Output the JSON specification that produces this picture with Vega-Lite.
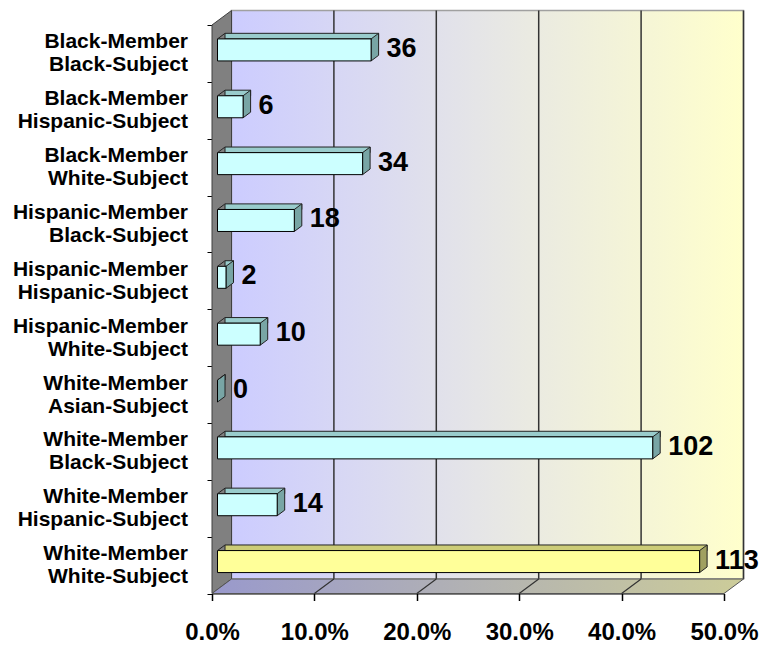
{
  "$schema": "https://vega.github.io/schema/vega-lite/v6.json",
  "width": 512,
  "height": 568.5,
  "autosize": {"type": "none"},
  "padding": {"left": 212, "top": 25, "right": 45, "bottom": 52.5},
  "background": "white",
  "config": {
    "view": {"stroke": null},
    "font": "Liberation Sans",
    "axisX": {"labelFont": "Liberation Sans", "labelFontWeight": "bold", "labelFontSize": 24, "labelColor": "#000000", "tickSize": 7, "tickWidth": 1.5, "tickColor": "#000000", "labelPadding": 20, "grid": false, "domainColor": "#000000", "domainWidth": 1, "zindex": 1, "labelFlush": false, "labelOverlap": false},
    "axisY": {"tickBand": "extent", "labelFont": "Liberation Sans", "labelFontWeight": "bold", "labelFontSize": 21, "labelLineHeight": 23, "labelColor": "#000000", "labelPadding": 19.5, "labelOffset": -11.5, "tickSize": 5, "tickColor": "#000000", "domainColor": "#000000", "labelAlign": "right", "labelBaseline": "middle", "labelLimit": 0, "zindex": 1, "grid": false}
  },
  "datasets": {
    "bars": [
      {"cat": "Black-Member|Black-Subject", "count": 36, "pct": 0.15},
      {"cat": "Black-Member|Hispanic-Subject", "count": 6, "pct": 0.025},
      {"cat": "Black-Member|White-Subject", "count": 34, "pct": 0.1417},
      {"cat": "Hispanic-Member|Black-Subject", "count": 18, "pct": 0.075},
      {"cat": "Hispanic-Member|Hispanic-Subject", "count": 2, "pct": 0.0083},
      {"cat": "Hispanic-Member|White-Subject", "count": 10, "pct": 0.0417},
      {"cat": "White-Member|Asian-Subject", "count": 0, "pct": 0},
      {"cat": "White-Member|Black-Subject", "count": 102, "pct": 0.425},
      {"cat": "White-Member|Hispanic-Subject", "count": 14, "pct": 0.0583},
      {"cat": "White-Member|White-Subject", "count": 113, "pct": 0.4708}
    ],
    "grid": [{"g": 0.1}, {"g": 0.2}, {"g": 0.3}, {"g": 0.4}]
  },
  "layer": [
    {
      "data": {"name": "bars"},
      "transform": [{"filter": "datum.cat === 'Black-Member|Black-Subject'"}],
      "mark": {"type": "point", "shape": "M19.5,-14.5L531.5,-14.5L531.5,554L19.5,554Z", "size": 4, "filled": true, "opacity": 1,
        "fill": {"gradient": "linear", "x1": 0, "y1": 0, "x2": 1, "y2": 0, "stops": [{"offset": 0, "color": "#ccccff"}, {"offset": 0.5, "color": "#e6e6e6"}, {"offset": 1, "color": "#ffffcc"}]},
        "stroke": "#a0a0a0", "strokeWidth": 1.5},
      "encoding": {
        "x": {"datum": 0, "type": "quantitative", "scale": {"domain": [0, 0.5], "nice": false}},
        "y": {"field": "cat", "type": "nominal", "bandPosition": 0, "sort": null, "scale": {"domain": ["Black-Member|Black-Subject", "Black-Member|Hispanic-Subject", "Black-Member|White-Subject", "Hispanic-Member|Black-Subject", "Hispanic-Member|Hispanic-Subject", "Hispanic-Member|White-Subject", "White-Member|Asian-Subject", "White-Member|Black-Subject", "White-Member|Hispanic-Subject", "White-Member|White-Subject"], "paddingInner": 0, "paddingOuter": 0}}
      }
    },
    {
      "data": {"name": "grid"},
      "mark": {"type": "rule", "xOffset": 19.5, "yOffset": -14.5, "color": "#333333", "strokeWidth": 1.5},
      "encoding": {
        "x": {"field": "g", "type": "quantitative"}
      }
    },
    {
      "data": {"name": "bars"},
      "transform": [{"filter": "datum.cat === 'Black-Member|Black-Subject'"}],
      "mark": {"type": "point", "shape": "M531.5,-14.5L531.5,554", "size": 4, "filled": false, "opacity": 1, "stroke": "#333333", "strokeWidth": 1.5},
      "encoding": {
        "x": {"datum": 0, "type": "quantitative"},
        "y": {"field": "cat", "type": "nominal", "bandPosition": 0, "sort": null}
      }
    },
    {
      "data": {"name": "bars"},
      "transform": [{"filter": "datum.cat === 'Black-Member|Black-Subject'"}],
      "mark": {"type": "point", "shape": "M0,0L19.5,-14.5L19.5,554L0,568.5Z", "size": 4, "filled": true, "opacity": 1, "fill": "#808080", "stroke": "#404040", "strokeWidth": 1},
      "encoding": {
        "x": {"datum": 0, "type": "quantitative"},
        "y": {"field": "cat", "type": "nominal", "bandPosition": 0, "sort": null}
      }
    },
    {
      "data": {"name": "bars"},
      "transform": [{"filter": "datum.cat === 'White-Member|White-Subject'"}],
      "mark": {"type": "point", "shape": "M0,0L512,0L531.5,-14.5L19.5,-14.5Z", "size": 4, "filled": true, "opacity": 1,
        "fill": {"gradient": "linear", "x1": 0, "y1": 0, "x2": 1, "y2": 0, "stops": [{"offset": 0, "color": "#9999cc"}, {"offset": 1, "color": "#cccc99"}]},
        "stroke": "#555555", "strokeWidth": 1},
      "encoding": {
        "x": {"datum": 0, "type": "quantitative"},
        "y": {"field": "cat", "type": "nominal", "bandPosition": 1, "sort": null}
      }
    },
    {
      "data": {"name": "bars"},
      "transform": [{"filter": "datum.cat === 'White-Member|White-Subject'"}],
      "mark": {"type": "point", "shape": "M102.4,0L121.9,-14.5M204.8,0L224.3,-14.5M307.2,0L326.7,-14.5M409.6,0L429.1,-14.5", "size": 4, "filled": false, "opacity": 1, "stroke": "#333333", "strokeWidth": 1.2},
      "encoding": {
        "x": {"datum": 0, "type": "quantitative"},
        "y": {"field": "cat", "type": "nominal", "bandPosition": 1, "sort": null}
      }
    },
    {
      "data": {"name": "bars"},
      "mark": {"type": "bar", "height": 5.6, "xOffset": 13, "x2Offset": 5.5, "yOffset": -17.3, "y2Offset": -17.3, "stroke": "#222222", "strokeWidth": 1},
      "encoding": {
        "x": {"field": "pct", "type": "quantitative"},
        "y": {"field": "cat", "type": "nominal", "sort": null},
        "fill": {"condition": {"test": "datum.cat === 'White-Member|White-Subject'", "value": "#cccc77"}, "value": "#99cccc"}
      }
    },
    {
      "data": {"name": "bars"},
      "mark": {"type": "point", "shape": "M0,0L0,-5.6L7.5,-5.6Z", "size": 4, "filled": true, "opacity": 1, "fill": "#808080", "stroke": "#808080", "strokeWidth": 1, "xOffset": 5.5, "yOffset": -14.5},
      "encoding": {
        "x": {"datum": 0, "type": "quantitative"},
        "y": {"field": "cat", "type": "nominal", "sort": null}
      }
    },
    {
      "data": {"name": "bars"},
      "mark": {"type": "point", "shape": "M0,0L7.5,-5.6L7.5,16.4L0,22Z", "size": 4, "filled": true, "opacity": 1, "stroke": "#222222", "strokeWidth": 1, "xOffset": 5.5, "yOffset": -14.5},
      "encoding": {
        "x": {"field": "pct", "type": "quantitative"},
        "y": {"field": "cat", "type": "nominal", "sort": null},
        "fill": {"condition": {"test": "datum.cat === 'White-Member|White-Subject'", "value": "#a0a060"}, "value": "#78a5a5"}
      }
    },
    {
      "data": {"name": "bars"},
      "mark": {"type": "bar", "height": 22, "xOffset": 5.5, "x2Offset": 5.5, "yOffset": -3.5, "y2Offset": -3.5, "stroke": "#000000", "strokeWidth": 1},
      "encoding": {
        "x": {"field": "pct", "type": "quantitative",
          "axis": {"title": null, "values": [0, 0.1, 0.2, 0.3, 0.4, 0.5], "format": ".1%"}},
        "y": {"field": "cat", "type": "nominal", "sort": null,
          "axis": {"title": null, "labelExpr": "split(datum.label, '|')"}},
        "fill": {"condition": {"test": "datum.cat === 'White-Member|White-Subject'", "value": "#ffff99"}, "value": "#ccffff"}
      }
    },
    {
      "data": {"name": "bars"},
      "mark": {"type": "point", "shape": "M0,0L7.5,-5.6", "size": 4, "filled": false, "opacity": 1, "stroke": "#222222", "strokeWidth": 1, "xOffset": 5.5, "yOffset": -14.5},
      "encoding": {
        "x": {"datum": 0, "type": "quantitative"},
        "y": {"field": "cat", "type": "nominal", "sort": null}
      }
    },
    {
      "data": {"name": "bars"},
      "mark": {"type": "text", "align": "left", "baseline": "alphabetic", "dx": 21, "dy": 3.5, "font": "Liberation Sans", "fontWeight": "bold", "fontSize": 27, "color": "#000000"},
      "encoding": {
        "x": {"field": "pct", "type": "quantitative"},
        "y": {"field": "cat", "type": "nominal", "sort": null},
        "text": {"field": "count", "type": "quantitative"}
      }
    }
  ]
}
